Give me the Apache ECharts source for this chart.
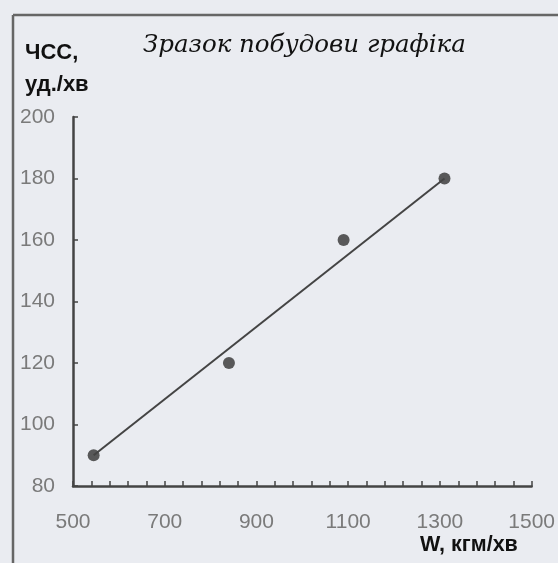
<!DOCTYPE html>
<html>
<head>
<meta charset="utf-8">
<script src="https://cdn.jsdelivr.net/npm/echarts@6/dist/echarts.min.js"></script>
<style>
html,body{margin:0;padding:0;background:#eaecf1;}
#chart{width:558px;height:563px;}
</style>
</head>
<body>
<div id="chart"></div>
<script>
// Data
const workload = [545, 840, 1090, 1310];      // W, кгм/хв
const heartRate = [90, 120, 160, 180];        // ЧСС, уд./хв
const trendX = [545, 1310];
const trendY = [90, 180];
const xTicks = [500, 540, 580, 620, 660, 700, 740, 780, 820, 860, 900, 940, 980,
                1020, 1060, 1100, 1140, 1180, 1220, 1260, 1300, 1340, 1380, 1420, 1460, 1500];
const xLabelValues = [500, 700, 900, 1100, 1300, 1500];
const yMin = 80, yMax = 200, yStep = 20;

const chart = echarts.init(document.getElementById('chart'), null, {renderer: 'canvas'});
const axisColor = '#444';
const labelColor = '#7a7a7a';
const font = 'Liberation Sans, Arial, sans-serif';

chart.setOption({
  backgroundColor: '#eaecf1',
  animation: false,
  title: [
    {text: 'Зразок побудови графіка', left: 143, top: 33, padding: 0,
     textStyle: {fontFamily: 'DejaVu Serif, serif', fontStyle: 'italic', fontWeight: 'normal', fontSize: 24.5, color: '#111'}},
    {text: 'ЧСС,', left: 25, top: 42, padding: 0,
     textStyle: {fontFamily: font, fontWeight: 'bold', fontSize: 22, color: '#111'}},
    {text: 'уд./хв', left: 25, top: 74, padding: 0,
     textStyle: {fontFamily: font, fontWeight: 'bold', fontSize: 22, color: '#111'}},
    {text: 'W, кгм/хв', left: 420, top: 534, padding: 0,
     textStyle: {fontFamily: font, fontWeight: 'bold', fontSize: 21.5, color: '#111'}}
  ],
  graphic: [
    {type: 'line', shape: {x1: 13, y1: 15, x2: 558, y2: 15}, style: {stroke: '#666', lineWidth: 2.5}},
    {type: 'line', shape: {x1: 13, y1: 15, x2: 13, y2: 563}, style: {stroke: '#666', lineWidth: 2.5}}
  ],
  grid: {left: 73, top: 117, right: 23, bottom: 77, containLabel: false},
  xAxis: [
    {
      type: 'category', data: xTicks.map(String), boundaryGap: false,
      axisLine: {show: true, lineStyle: {color: axisColor, width: 2.5}},
      axisTick: {show: true, inside: true, length: 5, interval: 0, lineStyle: {color: axisColor, width: 1.5}},
      axisLabel: {
        interval: function (i, v) { return xLabelValues.indexOf(Number(v)) >= 0; },
        color: labelColor, fontSize: 21, fontFamily: font, margin: 26
      },
      splitLine: {show: false}
    },
    {
      type: 'value', min: 500, max: 1500, show: false
    }
  ],
  yAxis: {
    type: 'value', min: yMin, max: yMax, interval: yStep,
    axisLine: {show: true, lineStyle: {color: axisColor, width: 2.5}},
    axisTick: {show: true, inside: true, length: 5, lineStyle: {color: axisColor, width: 1.5}},
    axisLabel: {color: labelColor, fontSize: 21, fontFamily: font, margin: 18},
    splitLine: {show: false}
  },
  series: [
    {
      type: 'line', xAxisIndex: 1, symbol: 'none',
      data: trendX.map((x, i) => [x, trendY[i]]),
      lineStyle: {color: '#444', width: 2}
    },
    {
      type: 'scatter', xAxisIndex: 1, symbol: 'circle', symbolSize: 12,
      data: workload.map((x, i) => [x, heartRate[i]]),
      itemStyle: {color: '#333'}
    }
  ]
});
</script>
</body>
</html>
